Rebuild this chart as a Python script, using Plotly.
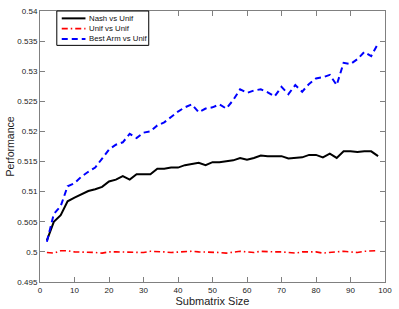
import plotly.graph_objects as go

x_vals = list(range(2, 100, 2))

nash_vs_unif = [0.5019, 0.5050, 0.5061, 0.5084, 0.5090, 0.5095, 0.5101, 0.5104, 0.5108, 0.5117,
                0.5120, 0.5126, 0.5120, 0.5129, 0.5129, 0.5129, 0.5138, 0.5138, 0.5140, 0.5140,
                0.5144, 0.5146, 0.5148, 0.5144, 0.5149, 0.5149, 0.5150, 0.5152, 0.5156, 0.5153,
                0.5156, 0.5160, 0.5159, 0.5159, 0.5159, 0.5155, 0.5156, 0.5157, 0.5161, 0.5161,
                0.5157, 0.5163, 0.5156, 0.5167, 0.5167, 0.5166, 0.5167, 0.5167, 0.5159]

unif_vs_unif = [0.4999, 0.4998, 0.5002, 0.5002, 0.5000, 0.5000, 0.5000, 0.4999, 0.4998, 0.5000,
                0.5000, 0.5000, 0.4999, 0.5000, 0.4999, 0.5001, 0.5001, 0.5000, 0.4999, 0.5000,
                0.5000, 0.5001, 0.5000, 0.5000, 0.5000, 0.4999, 0.4998, 0.5000, 0.5001, 0.5000,
                0.4999, 0.5001, 0.5000, 0.5000, 0.5000, 0.4999, 0.4998, 0.5000, 0.5000, 0.5000,
                0.4998, 0.4999, 0.5000, 0.5001, 0.5000, 0.4999, 0.5001, 0.5001, 0.5002]

best_arm_vs_unif = [0.5017, 0.5063, 0.5076, 0.5109, 0.5114, 0.5125, 0.5133, 0.5140, 0.5155, 0.5170,
                    0.5178, 0.5182, 0.5196, 0.5189, 0.5198, 0.5200, 0.5210, 0.5215, 0.5224, 0.5233,
                    0.5240, 0.5245, 0.5232, 0.5238, 0.5240, 0.5245, 0.5238, 0.5252, 0.5270, 0.5264,
                    0.5268, 0.5270, 0.5265, 0.5258, 0.5274, 0.5262, 0.5277, 0.5266, 0.5279, 0.5288,
                    0.5290, 0.5294, 0.5277, 0.5314, 0.5312, 0.5320, 0.5332, 0.5325, 0.5346]

series_names = ["Nash vs Unif", "Unif vs Unif", "Best Arm vs Unif"]

x_ticks = [0, 10, 20, 30, 40, 50, 60, 70, 80, 90, 100]
y_ticks = [0.495, 0.5, 0.505, 0.51, 0.515, 0.52, 0.525, 0.53, 0.535, 0.54]
y_tick_labels = ["0.495", "0.5", "0.505", "0.51", "0.515", "0.52", "0.525", "0.53", "0.535", "0.54"]

FONT = "Liberation Sans, Arial, sans-serif"
styles = [
    dict(color="black", width=2),
    dict(color="red", width=1.6, dash="6px,3px,1.5px,3px"),
    dict(color="blue", width=2, dash="6px,4px"),
]

fig = go.Figure()
for name, vals, st in zip(series_names, [nash_vs_unif, unif_vs_unif, best_arm_vs_unif], styles):
    fig.add_trace(go.Scatter(x=x_vals, y=vals, mode="lines", name=name, line=st,
                             showlegend=False))

axis_common = dict(
    showgrid=False, zeroline=False,
    showline=True, linecolor="#808080", linewidth=1, mirror="ticks",
    ticks="inside", ticklen=5, tickcolor="#808080", tickwidth=1,
    ticklabeloverflow="allow",
    tickfont=dict(family=FONT, size=8, color="#222222"),
)

# Compact MATLAB-style legend built in paper coordinates
W_PLOT, H_PLOT = 349.0, 276.0
def px_x(p):
    return (p - 40) / W_PLOT
def px_y(p):
    return 1 - (p - 7) / H_PLOT

shapes = [dict(type="rect", xref="paper", yref="paper",
               x0=px_x(57), x1=px_x(150), y0=px_y(42), y1=px_y(7),
               line=dict(color="black", width=1), fillcolor="white", layer="above")]
annotations = []
row_y = [14.5, 25, 35.5]
for name, st, ry in zip(series_names, styles, row_y):
    shapes.append(dict(type="line", xref="paper", yref="paper",
                       x0=px_x(62), x1=px_x(86), y0=px_y(ry), y1=px_y(ry),
                       line=st, layer="above"))
    annotations.append(dict(text=name, xref="paper", yref="paper",
                            x=px_x(88), y=px_y(ry), xanchor="left", yanchor="middle",
                            showarrow=False, font=dict(family=FONT, size=7.8, color="#111111")))

fig.update_layout(
    width=399, height=309,
    margin=dict(l=40, r=10, t=7, b=26),
    paper_bgcolor="white", plot_bgcolor="white",
    font=dict(family=FONT, color="#222222"),
    xaxis=dict(range=[0, 100], tickvals=x_ticks,
               title=dict(text="Submatrix Size", font=dict(size=11), standoff=0),
               **axis_common),
    yaxis=dict(range=[0.495, 0.54], tickvals=y_ticks, ticktext=y_tick_labels,
               title=dict(text="Performance", font=dict(size=10.5), standoff=0),
               **axis_common),
    shapes=shapes,
    annotations=annotations,
    showlegend=False,
)

fig.write_html("out.html",
               config={"displayModeBar": False, "staticPlot": True},
               post_script="document.body.style.margin='0';document.body.style.overflow='hidden';")
